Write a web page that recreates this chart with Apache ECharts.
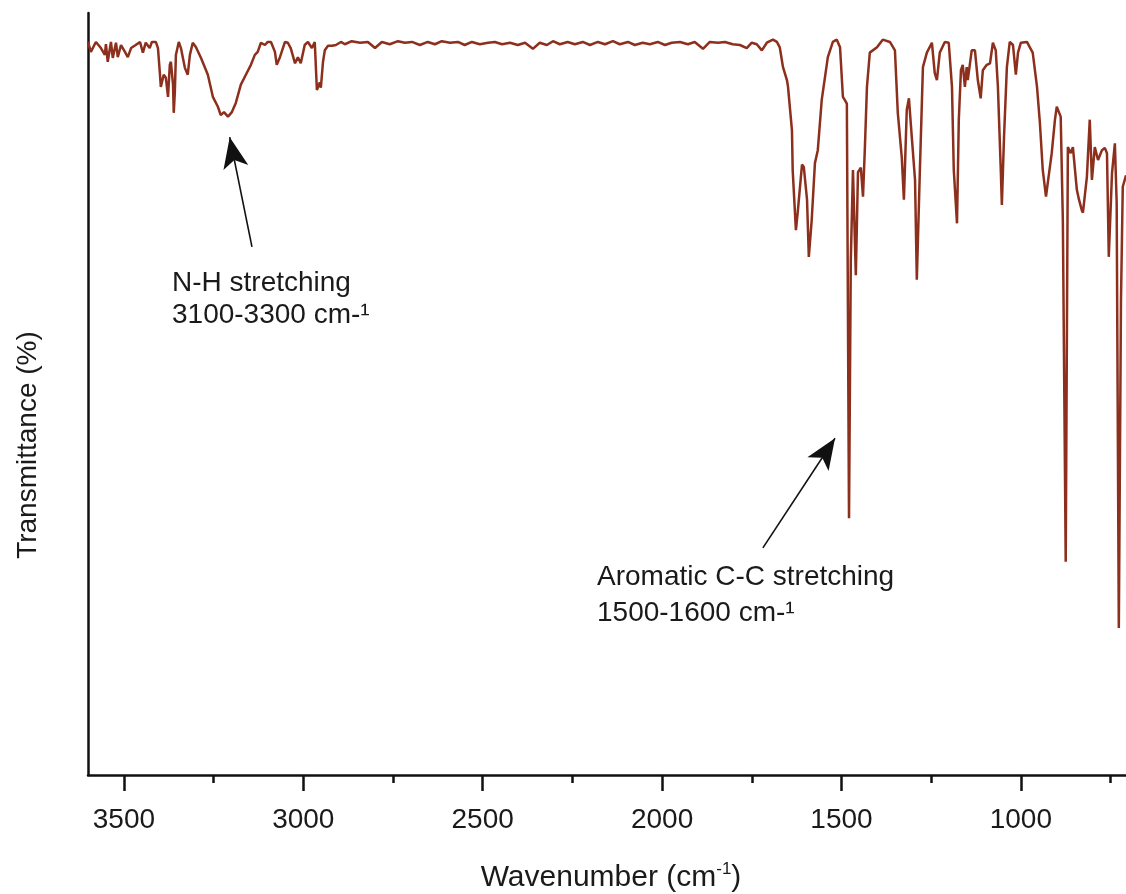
<!DOCTYPE html>
<html>
<head>
<meta charset="utf-8">
<title>IR spectrum</title>
<script src="https://cdn.jsdelivr.net/npm/echarts@6.0.0/dist/echarts.min.js"></script>
<style>
  html, body { margin: 0; padding: 0; background: #fff; }
  #chart { width: 1126px; height: 894px; }
</style>
</head>
<body>
<div id="chart"></div>
<script>
// [wavenumber (cm-1), transmittance (%)]
const nhRegion = [
  [3600, 96.2], [3592, 94.9], [3578, 96.2], [3564, 95.4], [3553, 94.5], [3550, 95.9], [3545, 93.6],
  [3536, 96.2], [3531, 94.1], [3522, 96.1], [3517, 94.2], [3508, 95.8], [3497, 94.9], [3489, 94.2],
  [3480, 95.4], [3467, 95.8], [3455, 96.2], [3447, 94.8], [3439, 96.1], [3428, 95.4], [3422, 96.2],
  [3411, 96.2], [3405, 95.4], [3400, 92.3], [3397, 90.3], [3389, 91.9], [3383, 91.5], [3377, 89.0],
  [3372, 93.2], [3369, 93.6], [3363, 90.6], [3361, 86.9], [3358, 89.6], [3355, 94.5], [3347, 96.2],
  [3341, 95.4], [3330, 92.8], [3322, 91.9], [3316, 94.5], [3308, 96.1], [3299, 95.5], [3285, 94.1],
  [3266, 91.9], [3252, 89.0], [3238, 87.7], [3230, 86.6], [3221, 87.0], [3210, 86.4], [3199, 87.0],
  [3188, 88.2], [3174, 90.6], [3160, 91.9], [3146, 93.2], [3135, 94.5], [3127, 94.9], [3118, 96.1],
  [3107, 95.8], [3099, 96.2], [3090, 96.2], [3079, 94.9], [3074, 93.2], [3065, 94.2], [3051, 96.2],
  [3043, 96.1], [3035, 95.4], [3023, 93.4], [3015, 94.2], [3007, 93.4], [2996, 95.8], [2987, 96.2],
  [2976, 95.4], [2968, 96.2], [2962, 89.9], [2954, 90.9], [2951, 90.2], [2945, 93.6], [2940, 95.1],
  [2931, 95.7], [2920, 95.7], [2909, 95.8], [2895, 96.2]
];
const flatRegion = [
  [2884, 95.9], [2865, 96.3], [2842, 96.1], [2820, 96.2], [2800, 95.4], [2781, 96.2], [2759, 95.9],
  [2736, 96.3], [2717, 96.1], [2697, 96.2], [2675, 95.8], [2653, 96.2], [2633, 95.9], [2614, 96.3],
  [2591, 96.1], [2569, 96.2], [2550, 95.8], [2530, 96.2], [2508, 95.9], [2485, 96.1], [2466, 96.2],
  [2446, 95.9], [2424, 96.1], [2402, 95.8], [2382, 96.1], [2360, 95.3], [2341, 96.1], [2321, 95.8],
  [2304, 96.3], [2285, 95.9], [2263, 96.2], [2243, 95.9], [2221, 96.2], [2201, 95.8], [2179, 96.2],
  [2159, 95.9], [2137, 96.3], [2118, 95.9], [2095, 96.2], [2076, 95.8], [2054, 96.1], [2034, 95.9],
  [2012, 96.2], [1992, 95.8], [1973, 96.1], [1950, 96.2], [1928, 95.9], [1909, 96.2], [1886, 95.3],
  [1867, 96.2], [1844, 96.1], [1825, 96.2], [1803, 95.9], [1783, 95.8], [1764, 95.4], [1750, 96.1],
  [1736, 95.9], [1722, 95.1], [1708, 96.1], [1691, 96.5], [1680, 96.2]
];
const fingerprint = [
  [1672, 95.5], [1663, 92.9], [1652, 91.2], [1649, 90.3], [1638, 84.6], [1636, 79.4], [1627, 71.5],
  [1622, 73.8], [1610, 80.1], [1605, 79.8], [1596, 75.5], [1591, 68.0], [1583, 72.8], [1574, 80.3],
  [1566, 82.0], [1555, 88.6], [1538, 94.2], [1524, 96.2], [1513, 96.5], [1504, 95.5], [1496, 89.0],
  [1491, 88.6], [1485, 88.1], [1479, 33.7], [1474, 67.6], [1468, 79.4], [1460, 65.6], [1454, 79.1],
  [1446, 79.7], [1440, 75.9], [1435, 82.0], [1429, 90.3], [1421, 94.8], [1401, 95.5], [1385, 96.5],
  [1365, 96.2], [1351, 95.1], [1343, 86.9], [1332, 81.1], [1326, 75.5], [1318, 87.3], [1312, 88.8],
  [1304, 83.7], [1295, 78.1], [1290, 65.0], [1282, 78.5], [1273, 92.9], [1262, 94.8], [1248, 96.1],
  [1240, 92.1], [1234, 91.2], [1226, 94.8], [1212, 96.2], [1201, 96.1], [1192, 90.3], [1187, 79.4],
  [1178, 72.4], [1173, 86.0], [1167, 92.5], [1162, 93.2], [1156, 90.3], [1151, 92.9], [1148, 91.2],
  [1137, 95.1], [1128, 95.1], [1120, 91.2], [1112, 88.8], [1106, 92.5], [1095, 93.2], [1086, 93.4],
  [1078, 96.1], [1070, 95.1], [1064, 90.3], [1056, 79.4], [1053, 74.8], [1047, 83.7], [1039, 92.9],
  [1031, 96.2], [1022, 95.8], [1014, 91.9], [1008, 94.8], [1000, 96.1], [983, 96.2], [975, 95.5],
  [967, 94.8], [955, 90.3], [947, 85.6], [939, 79.4], [930, 75.9], [925, 77.7], [914, 81.6],
  [905, 86.0], [900, 87.7], [889, 86.4], [883, 72.8], [875, 28.0], [869, 82.4], [861, 81.6],
  [855, 82.4], [850, 82.4], [844, 76.8], [838, 75.5], [830, 74.1], [827, 73.8], [816, 78.5],
  [808, 86.0], [802, 78.1], [794, 82.4], [785, 80.7], [774, 82.0], [766, 82.3], [760, 81.6],
  [755, 68.0], [746, 79.0], [738, 82.9], [733, 75.1], [727, 19.3], [721, 62.3], [716, 77.2],
  [707, 78.7]
];

const majorTicks = [1000, 1500, 2000, 2500, 3000, 3500];
const minorTicks = [750, 1250, 1750, 2250, 2750, 3250];

// arrows: [tail, tip] in data units
const nhArrow = [[3143, 69.3], [3205, 83.7]];
const ccArrow = [[1719, 29.8], [1518, 44.2]];

const spectrum = nhRegion.concat(flatRegion, fingerprint);

const chart = echarts.init(document.getElementById('chart'));
const font = '"Liberation Sans", Arial, sans-serif';
const textColor = '#1a1a1a';

function arrow(pts) {
  return [
    { coord: pts[0], symbol: 'none' },
    { coord: pts[1], symbol: 'arrow', symbolSize: [19, 31] }
  ];
}

const baseX = {
  type: 'value',
  min: 707,
  max: 3600,
  inverse: true,
  position: 'bottom',
  splitLine: { show: false }
};

chart.setOption({
  animation: false,
  grid: { left: 88, right: 0, top: 13, bottom: 119 },
  xAxis: [
    Object.assign({}, baseX, {
      axisLine: { show: true, onZero: false, lineStyle: { color: '#111', width: 2.5 } },
      axisTick: { show: true, customValues: majorTicks, length: 16, lineStyle: { color: '#111', width: 2.5 } },
      axisLabel: {
        customValues: majorTicks, margin: 31, fontSize: 28, fontFamily: font, color: textColor,
        formatter: v => String(v)
      }
    }),
    Object.assign({}, baseX, {
      axisLine: { show: false },
      axisTick: { show: true, customValues: minorTicks, length: 8, lineStyle: { color: '#111', width: 2.5 } },
      axisLabel: { show: false }
    })
  ],
  yAxis: {
    type: 'value',
    min: 0,
    max: 100,
    axisLine: { show: true, lineStyle: { color: '#111', width: 2.5 } },
    axisTick: { show: false },
    axisLabel: { show: false },
    splitLine: { show: false }
  },
  series: [{
    type: 'line',
    data: spectrum,
    showSymbol: false,
    lineStyle: { color: '#8c2f1c', width: 2.5 },
    markLine: {
      silent: true,
      label: { show: false },
      lineStyle: { color: '#111', width: 1.6, type: 'solid' },
      itemStyle: { color: '#111' },
      data: [arrow(nhArrow), arrow(ccArrow)]
    }
  }],
  graphic: [
    {
      type: 'text', x: 28, y: 445, rotation: Math.PI / 2,
      style: { text: 'Transmittance (%)', font: '28px ' + font, fill: textColor, align: 'center', verticalAlign: 'middle' }
    },
    {
      type: 'text', x: 611, y: 878,
      style: {
        text: 'Wavenumber (cm{sup|-1})',
        font: '30px ' + font, fill: textColor, align: 'center', verticalAlign: 'middle',
        lineHeight: 34,
        rich: { sup: { fontSize: 17, fontFamily: font, fill: textColor, lineHeight: 18, verticalAlign: 'top' } }
      }
    },
    {
      type: 'text', left: 172, top: 267,
      style: { text: 'N-H stretching\n3100-3300 cm-¹', font: '28px ' + font, fill: textColor, lineHeight: 32 }
    },
    {
      type: 'text', left: 597, top: 559,
      style: { text: 'Aromatic C-C stretching\n1500-1600 cm-¹', font: '28px ' + font, fill: textColor, lineHeight: 36 }
    }
  ]
});
</script>
</body>
</html>
